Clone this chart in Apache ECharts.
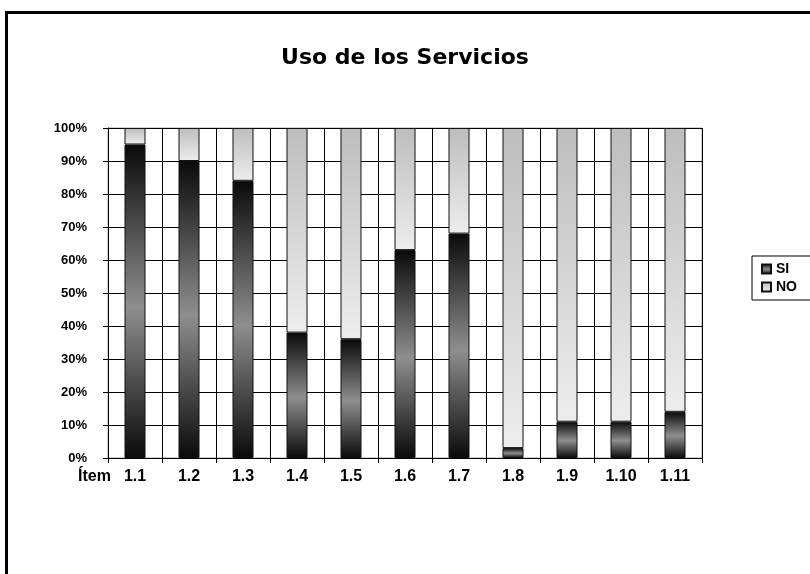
<!DOCTYPE html>
<html>
<head>
<meta charset="utf-8">
<script src="https://cdn.jsdelivr.net/npm/echarts@6/dist/echarts.min.js"></script>
<style>
    html, body { margin: 0; padding: 0; background: #fff; }
    #chart { width: 810px; height: 574px; }
</style>
</head>
<body>
<div id="chart"></div>
<script>
var categories = ['1.1', '1.2', '1.3', '1.4', '1.5', '1.6', '1.7', '1.8', '1.9', '1.10', '1.11'];
var siValues = [95, 90, 84, 38, 36, 63, 68, 3, 11, 11, 14];
var noValues = [5, 10, 16, 62, 64, 37, 32, 97, 89, 89, 86];
var yTicks = [0, 10, 20, 30, 40, 50, 60, 70, 80, 90, 100];

var labelFont = 'Liberation Sans';

var siColor = {
    type: 'linear', x: 0, y: 0, x2: 0, y2: 1,
    colorStops: [
        { offset: 0, color: '#0a0a0a' },
        { offset: 0.52, color: '#8e8e8e' },
        { offset: 1, color: '#0a0a0a' }
    ]
};
var noColor = {
    type: 'linear', x: 0, y: 0, x2: 0, y2: 1,
    colorStops: [
        { offset: 0, color: '#bdbdbd' },
        { offset: 1, color: '#ededed' }
    ]
};

var option = {
    backgroundColor: '#fff',
    animation: false,
    title: {
        text: 'Uso de los Servicios',
        left: 'center',
        top: 42,
        textStyle: {
            fontFamily: 'DejaVu Sans',
            fontWeight: 'bold',
            fontSize: 22,
            color: '#000'
        }
    },
    legend: {
        orient: 'vertical',
        left: 752,
        top: 256,
        padding: [6, 40, 6, 9],
        itemWidth: 9,
        itemHeight: 9,
        itemGap: 4,
        icon: 'rect',
        borderColor: '#000',
        borderWidth: 1,
        textStyle: {
            fontFamily: labelFont,
            fontWeight: 'bold',
            fontSize: 14,
            color: '#000',
            padding: [0, 0, 0, 0]
        },
        data: ['SI', 'NO']
    },
    grid: {
        left: 108,
        right: 108,
        top: 128,
        bottom: 116,
        show: true,
        borderColor: '#a0a0a0',
        borderWidth: 1,
        containLabel: false
    },
    xAxis: {
        type: 'category',
        data: categories,
        axisLine: { lineStyle: { color: '#000', width: 1 } },
        axisTick: { show: true, length: 5, lineStyle: { color: '#000' } },
        splitLine: { show: true, lineStyle: { color: '#000', width: 1 } },
        axisLabel: {
            margin: 11,
            fontFamily: labelFont,
            fontWeight: 'bold',
            fontSize: 16,
            color: '#000'
        }
    },
    yAxis: {
        type: 'value',
        min: 0,
        max: 100,
        interval: 10,
        axisLine: { show: true, lineStyle: { color: '#000', width: 1 } },
        axisTick: { show: true, length: 5, lineStyle: { color: '#000' } },
        splitLine: { show: true, lineStyle: { color: '#000', width: 1 } },
        axisLabel: {
            margin: 21,
            fontFamily: labelFont,
            fontWeight: 'bold',
            fontSize: 13,
            color: '#000',
            formatter: function (v) {
                return yTicks.indexOf(v) >= 0 ? v + '%' : '';
            }
        }
    },
    graphic: [
        {
            type: 'rect',
            shape: { x: 6.5, y: 12.5, width: 900, height: 700 },
            style: { fill: null, stroke: '#000', lineWidth: 3 },
            z: 100
        },
        {
            type: 'text',
            left: 78,
            top: 469,
            style: {
                text: 'Ítem',
                fontFamily: labelFont,
                fontWeight: 'bold',
                fontSize: 16,
                fill: '#000'
            }
        }
    ],
    series: [
        {
            name: 'SI',
            type: 'bar',
            stack: 'total',
            barWidth: 21,
            data: siValues,
            itemStyle: { color: siColor, borderColor: '#111', borderWidth: 1 }
        },
        {
            name: 'NO',
            type: 'bar',
            stack: 'total',
            barWidth: 21,
            data: noValues,
            itemStyle: { color: noColor, borderColor: '#111', borderWidth: 1 }
        }
    ]
};

var chart = echarts.init(document.getElementById('chart'));
chart.setOption(option);
</script>
</body>
</html>
